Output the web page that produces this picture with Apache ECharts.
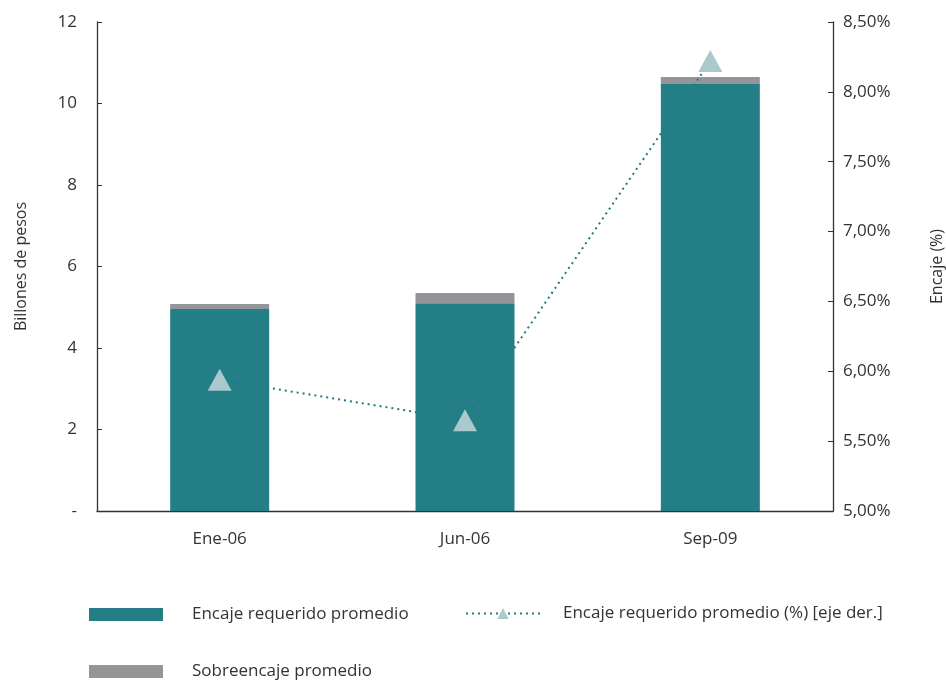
<!DOCTYPE html>
<html>
<head>
<meta charset="utf-8">
<script src="https://cdn.jsdelivr.net/npm/echarts@6/dist/echarts.min.js"></script>
<style>html,body{margin:0;padding:0;background:#fff}#c{width:946px;height:681px}</style>
</head>
<body>
<div id="c"></div>
<script>
const categories = ['Ene-06', 'Jun-06', 'Sep-09'];
const encajeRequerido = [4.96, 5.10, 10.48];
const sobreencaje = [0.12, 0.25, 0.17];
const encajePct = [5.94, 5.65, 8.22];
const leftTicks = { min: 0, max: 12, interval: 2 };
const rightTicks = { min: 5, max: 8.5, interval: 0.5 };

const FONT = '"Open Sans", sans-serif';
const TXT = '#333';
const FS = 17;
const chart = echarts.init(document.getElementById('c'), null, { renderer: 'canvas' });
chart.setOption({
  animation: false,
  backgroundColor: '#fff',
  textStyle: { fontFamily: FONT },
  grid: { left: 97, right: 113, top: 22, bottom: 170, containLabel: false, outerBoundsMode: 'none' },
  legend: [
    { left: 89, top: 606, padding: 0, itemWidth: 74, itemHeight: 13, icon: 'rect',
      data: ['Encaje requerido promedio'],
      textStyle: { fontFamily: FONT, fontSize: FS, color: TXT, padding: [0, 0, 0, 24] } },
    { left: 465, top: 605, padding: 0, itemWidth: 74, itemHeight: 14,
      data: ['Encaje requerido promedio (%) [eje der.]'],
      textStyle: { fontFamily: FONT, fontSize: FS, color: TXT, padding: [0, 0, 0, 18] } },
    { left: 89, top: 663, padding: 0, itemWidth: 74, itemHeight: 13, icon: 'rect',
      data: ['Sobreencaje promedio'],
      textStyle: { fontFamily: FONT, fontSize: FS, color: TXT, padding: [0, 0, 0, 24] } }
  ],
  xAxis: {
    type: 'category', data: categories,
    axisLine: { lineStyle: { color: '#333', width: 1.3 } },
    axisTick: { inside: true, length: 6, lineStyle: { color: '#333' } },
    axisLabel: { fontFamily: FONT, fontSize: FS, color: TXT, margin: 20 }
  },
  yAxis: [
    { type: 'value', min: leftTicks.min, max: leftTicks.max, interval: leftTicks.interval,
      name: 'Billones de pesos', nameLocation: 'middle', nameGap: 68, nameRotate: 90,
      nameTextStyle: { fontFamily: FONT, fontSize: 16, color: TXT },
      axisLine: { show: true, lineStyle: { color: '#333', width: 1.3 } },
      axisTick: { show: true, inside: true, length: 5, lineStyle: { color: '#333' } },
      splitLine: { show: false },
      axisLabel: { fontFamily: FONT, fontSize: FS, color: TXT, margin: 20,
        formatter: v => v === 0 ? '-' : String(v) } },
    { type: 'value', min: rightTicks.min, max: rightTicks.max, interval: rightTicks.interval,
      position: 'right',
      name: 'Encaje (%)', nameLocation: 'middle', nameGap: 96, nameRotate: 90,
      nameTextStyle: { fontFamily: FONT, fontSize: 16, color: TXT },
      axisLine: { show: true, lineStyle: { color: '#333', width: 1.3 } },
      axisTick: { show: true, inside: true, length: 5, lineStyle: { color: '#333' } },
      splitLine: { show: false },
      axisLabel: { fontFamily: FONT, fontSize: FS, color: TXT, margin: 10,
        formatter: v => v.toFixed(2).replace('.', ',') + '%' } }
  ],
  series: [
    { name: 'Encaje requerido promedio', type: 'bar', stack: 's', barWidth: 99,
      itemStyle: { color: '#237F85' }, data: encajeRequerido },
    { name: 'Sobreencaje promedio', type: 'bar', stack: 's', barWidth: 99,
      itemStyle: { color: '#939598' }, data: sobreencaje },
    { name: 'Encaje requerido promedio (%) [eje der.]', type: 'line', yAxisIndex: 1,
      symbol: 'triangle', symbolSize: [24, 22], z: 5,
      itemStyle: { color: '#A9C9CC' },
      lineStyle: { color: '#1F7A80', width: 2, type: [2, 4] },
      data: encajePct }
  ]
});
</script>
</body>
</html>
